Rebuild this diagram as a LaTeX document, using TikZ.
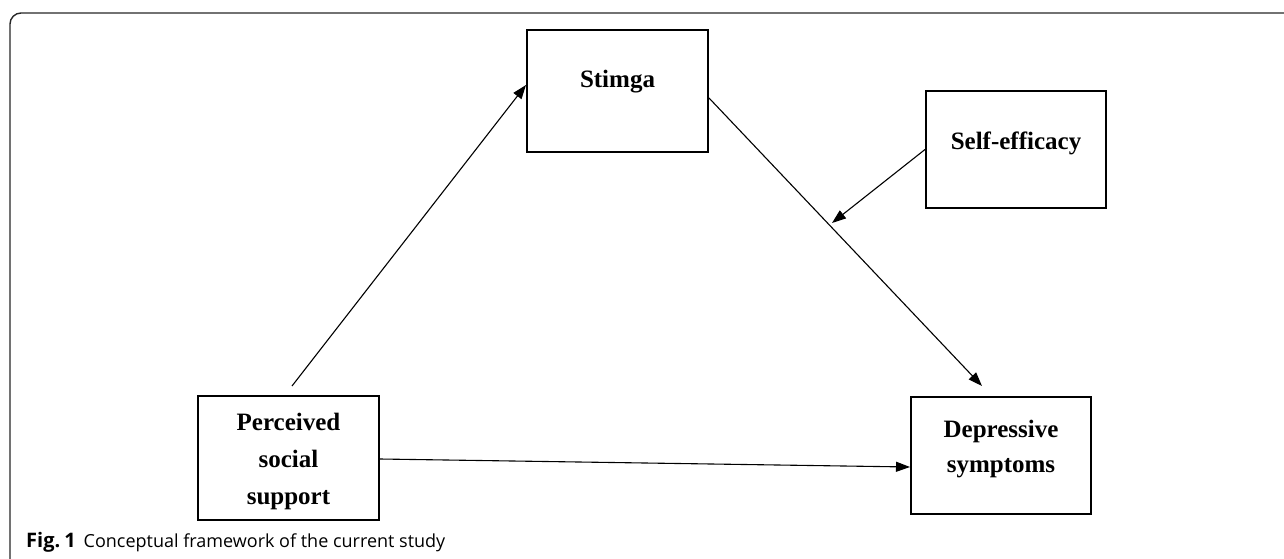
\documentclass[tikz,border=0pt]{standalone}
\usepackage{fontspec}
\setmainfont{Liberation Serif}
\newfontfamily\capfont{Open Sans}
\usetikzlibrary{arrows.meta,calc}
\begin{document}
\begin{tikzpicture}[x=1pt,y=-1pt,
  box/.style={draw=black,line width=2pt,rectangle,inner sep=0pt},
  lbl/.style={font=\fontsize{25}{37}\selectfont\bfseries,align=center,inner sep=0pt},
  arr/.style={line width=1.1pt,-{Triangle[length=14pt,width=10pt]}},
  frame/.style={line width=1.4pt,draw=black!85}
]
\useasboundingbox (0,0) rectangle (1284,559);
% frame
\draw[frame,rounded corners=11pt] (1290,13) -- (10,13) -- (10,565);
% boxes
\node[box,minimum width=181pt,minimum height=122pt] (s) at (617.5,91) {};
\node[lbl] (st) at (617.5,82) {Stimga};
\node[box,minimum width=180pt,minimum height=117pt] (se) at (1016,149.5) {};
\node[lbl] (set) at (1016,143) {Self-efficacy};
\node[box,minimum width=181pt,minimum height=124pt] (pss) at (288.5,458) {};
\node[lbl] (psst) at (288.5,461) {Perceived\\social\\support};
\node[box,minimum width=180pt,minimum height=117pt] (dep) at (1001,455.5) {};
\node[lbl,font=\fontsize{25}{35}\selectfont\bfseries] (dept) at (1001,449.5) {Depressive\\symptoms};
% moderation point
\coordinate (mod) at (832,223);
% connectors
\draw[arr] ([xshift=3.5pt,yshift=9pt]pss.north) -- ([yshift=6pt]s.west);
\draw[arr] ([yshift=-7pt]s.east) -- ([xshift=-19pt,yshift=10pt]dep.north);
\draw[arr] (se.west) -- (mod);
\draw[arr] ([yshift=-1pt]pss.east) -- ([yshift=-11.5pt]dep.west);
% caption
\node[anchor=base west,inner sep=0pt,font=\capfont\fontsize{18}{22}\selectfont] (cap) at (26,547) {{\fontsize{20}{22}\selectfont\textbf{Fig.\hspace{4pt}1}}\hspace{8pt}Conceptual framework of the current study};
\end{tikzpicture}
\end{document}
